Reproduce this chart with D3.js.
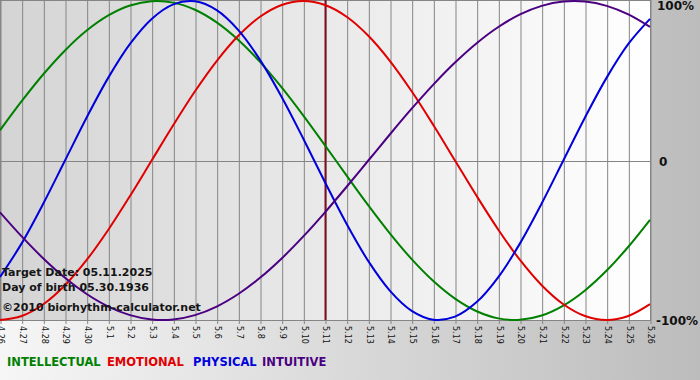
<!DOCTYPE html>
<html>
<head>
<meta charset="utf-8">
<script src="https://cdn.jsdelivr.net/npm/d3@7"></script>
<style>
  body { margin: 0; overflow: hidden; }
  svg { display: block; font-family: "DejaVu Sans", Verdana, sans-serif; }
</style>
</head>
<body>
<svg></svg>
<script>
const dayLabels = ["4.26","4.27","4.28","4.29","4.30","5.1","5.2","5.3","5.4","5.5","5.6","5.7","5.8","5.9","5.10",
  "5.11","5.12","5.13","5.14","5.15","5.16","5.17","5.18","5.19","5.20","5.21","5.22","5.23","5.24","5.25","5.26"];
const targetDay = "5.11";

const physical = [-0.7308,-0.5196,-0.2698,0,0.2698,0.5196,0.7308,0.8879,0.9791,0.9977,0.9423,0.8170,0.6311,0.3984,0.1362,
  -0.1362,-0.3984,-0.6311,-0.8170,-0.9423,-0.9977,-0.9791,-0.8879,-0.7308,-0.5196,-0.2698,0,0.2698,0.5196,0.7308,0.8879];
const emotional = [-1.0,-0.9749,-0.9010,-0.7818,-0.6235,-0.4339,-0.2225,0,0.2225,0.4339,0.6235,0.7818,0.9010,0.9749,1.0,
  0.9749,0.9010,0.7818,0.6235,0.4339,0.2225,0,-0.2225,-0.4339,-0.6235,-0.7818,-0.9010,-0.9749,-1.0,-0.9749,-0.9010];
const intellectual = [0.1893,0.3717,0.5406,0.6901,0.8146,0.9096,0.9718,0.9989,0.9898,0.9450,0.8660,0.7557,0.6182,0.4582,0.2817,
  0.0951,-0.0951,-0.2817,-0.4582,-0.6182,-0.7557,-0.8660,-0.9450,-0.9898,-0.9989,-0.9718,-0.9096,-0.8146,-0.6901,-0.5406,-0.3717];
const intuitive = [-0.3247,-0.4759,-0.6142,-0.7357,-0.8372,-0.9158,-0.9694,-0.9966,-0.9966,-0.9694,-0.9158,-0.8372,-0.7357,-0.6142,-0.4759,
  -0.3247,-0.1646,0,0.1646,0.3247,0.4759,0.6142,0.7357,0.8372,0.9158,0.9694,0.9966,0.9966,0.9694,0.9158,0.8372];

const yTicks = [1, 0, -1];
const yTickLabels = ["100%", "0", "-100%"];

const series = [
  { name: "INTELLECTUAL", values: intellectual, color: "#008000", lx: 7 },
  { name: "EMOTIONAL", values: emotional, color: "#e00000", lx: 107 },
  { name: "PHYSICAL", values: physical, color: "#0000dd", lx: 193 },
  { name: "INTUITIVE", values: intuitive, color: "#4b0082", lx: 262 },
];

const infoLines = ["Target Date: 05.11.2025", "Day of birth 05.30.1936", "\u00a92010 biorhythm-calculator.net"];

const width = 700, height = 380;
const plotW = 650, plotH = 320;

const svg = d3.select("svg").attr("width", width).attr("height", height);

const defs = svg.append("defs");
const outerGrad = defs.append("linearGradient").attr("id", "outerGrad");
outerGrad.append("stop").attr("offset", "0%").attr("stop-color", "#f6f6f6");
outerGrad.append("stop").attr("offset", "100%").attr("stop-color", "#bcbcbc");
const plotGrad = defs.append("linearGradient").attr("id", "plotGrad");
plotGrad.append("stop").attr("offset", "0%").attr("stop-color", "#d4d4d4");
plotGrad.append("stop").attr("offset", "100%").attr("stop-color", "#ffffff");

svg.append("rect").attr("width", width).attr("height", height).attr("fill", "url(#outerGrad)");
svg.append("rect").attr("width", plotW).attr("height", plotH).attr("fill", "url(#plotGrad)");

const xScale = d3.scalePoint().domain(dayLabels).range([0, plotW]);
const yScale = d3.scaleLinear().domain([-1, 1]).range([plotH, 1]);

// vertical grid + rotated day labels
const xAxis = d3.axisBottom(xScale).tickSize(-(plotH + 4)).tickPadding(0);
const xAxisG = svg.append("g").attr("transform", `translate(0.5, ${plotH + 4})`).call(xAxis);
xAxisG.select(".domain").remove();
xAxisG.selectAll("line").attr("stroke", "#858585");
xAxisG.selectAll("text")
  .attr("transform", "rotate(90)")
  .attr("x", 2)
  .attr("y", 0)
  .attr("dy", "0.35em")
  .style("text-anchor", "start")
  .attr("fill", "#111")
  .attr("font-size", 8)
  .attr("font-family", "DejaVu Sans, sans-serif");

// zero line and frame
svg.append("line")
  .attr("x1", 0).attr("x2", plotW)
  .attr("y1", Math.round(yScale(0)) + 0.5).attr("y2", Math.round(yScale(0)) + 0.5)
  .attr("stroke", "#858585");
svg.append("rect")
  .attr("x", 0.5).attr("y", 0.5).attr("width", plotW).attr("height", plotH)
  .attr("fill", "none").attr("stroke", "#858585");

// right side labels
svg.selectAll(".ylab")
  .data(yTicks)
  .enter()
  .append("text")
  .attr("class", "ylab")
  .attr("x", (d) => (d === 0 ? 659 : d > 0 ? 657 : 656))
  .attr("y", (d) => yScale(d) + 4)
  .attr("dy", (d) => (d > 0 ? 5 : 1))
  .attr("font-size", 12)
  .attr("font-weight", "bold")
  .attr("fill", "#111")
  .text((d, i) => yTickLabels[i]);

// target day marker
svg.append("line")
  .attr("x1", xScale(targetDay) + 0.5).attr("x2", xScale(targetDay) + 0.5)
  .attr("y1", 0).attr("y2", plotH)
  .attr("stroke", "#7a1020")
  .attr("stroke-width", 2);

// curves
const line = d3.line()
  .x((d, i) => xScale(dayLabels[i]))
  .y((d) => yScale(d))
  .curve(d3.curveCatmullRom);

svg.append("g")
  .selectAll("path")
  .data(series)
  .enter()
  .append("path")
  .attr("d", (s) => line(s.values))
  .attr("fill", "none")
  .attr("stroke", (s) => s.color)
  .attr("stroke-width", 2);

// info text
svg.selectAll(".info")
  .data(infoLines)
  .enter()
  .append("text")
  .attr("class", "info")
  .attr("x", 2)
  .attr("y", (d, i) => [276, 291, 311][i])
  .attr("font-size", 11)
  .attr("font-weight", "bold")
  .attr("fill", "#151515")
  .text((d) => d);

// legend
svg.selectAll(".legend")
  .data(series)
  .enter()
  .append("text")
  .attr("class", "legend")
  .attr("x", (s) => s.lx)
  .attr("y", 366)
  .attr("font-size", 11.5)
  .attr("font-weight", "bold")
  .attr("fill", (s) => s.color)
  .text((s) => s.name);
</script>
</body>
</html>
